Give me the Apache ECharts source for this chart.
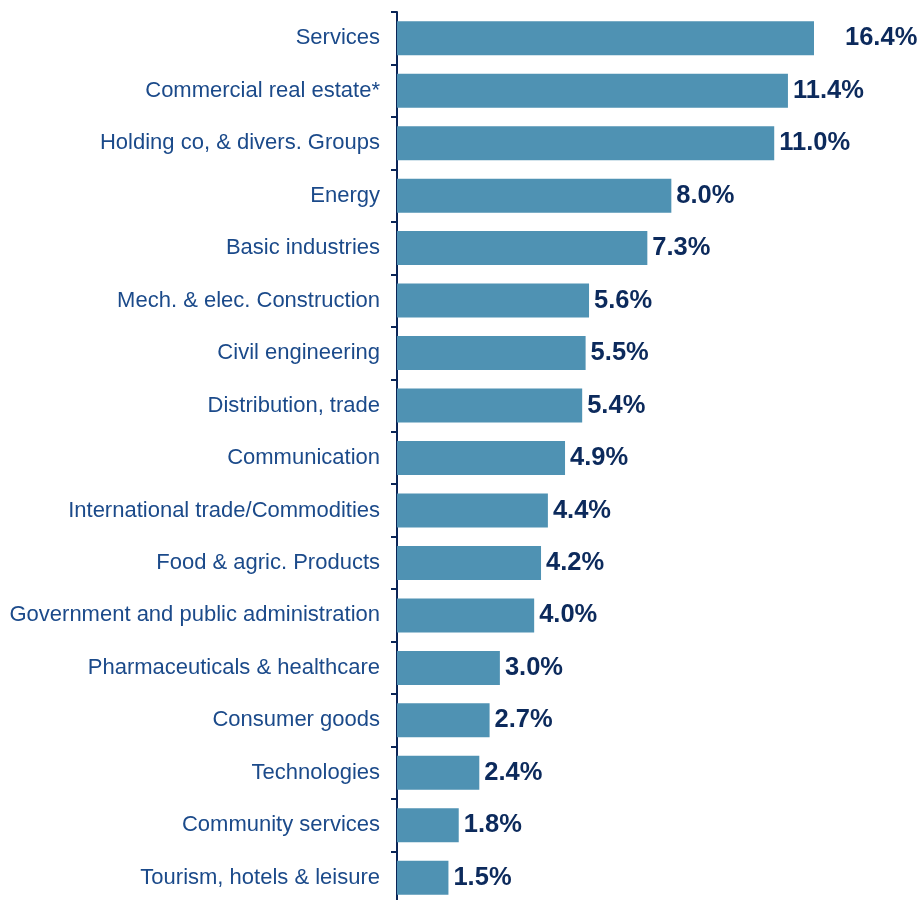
<!DOCTYPE html>
<html>
<head>
<meta charset="utf-8">
<style>
  html, body { margin: 0; padding: 0; background: #ffffff; overflow: hidden; }
  #chart { width: 922px; height: 912px; }
</style>
<script src="https://cdn.jsdelivr.net/npm/echarts@6/dist/echarts.min.js"></script>
</head>
<body>
<div id="chart"></div>
<script>
// Sector breakdown, share of total (%)
const sectors = [
  'Services',
  'Commercial real estate*',
  'Holding co, & divers. Groups',
  'Energy',
  'Basic industries',
  'Mech. & elec. Construction',
  'Civil engineering',
  'Distribution, trade',
  'Communication',
  'International trade/Commodities',
  'Food & agric. Products',
  'Government and public administration',
  'Pharmaceuticals & healthcare',
  'Consumer goods',
  'Technologies',
  'Community services',
  'Tourism, hotels & leisure'
];
const shares = [16.4, 11.4, 11.0, 8.0, 7.3, 5.6, 5.5, 5.4, 4.9, 4.4, 4.2, 4.0, 3.0, 2.7, 2.4, 1.8, 1.5];

// The value axis stops short of the largest bar, which is drawn cut off at the edge
const axisMax = 12.16;

const font = '"Liberation Sans", Arial, sans-serif';

const barData = shares.map(function (v) {
  const item = { value: v };
  if (v > axisMax) {
    item.label = { distance: 31 };
  }
  return item;
});

const chart = echarts.init(document.getElementById('chart'), null, { renderer: 'canvas' });
chart.setOption({
  animation: false,
  backgroundColor: '#ffffff',
  grid: { left: 397, top: 12, width: 417, height: 892, containLabel: false },
  xAxis: {
    type: 'value',
    min: 0,
    max: axisMax,
    show: false
  },
  yAxis: {
    type: 'category',
    data: sectors,
    inverse: true,
    axisLine: { show: true, lineStyle: { color: '#0b2557', width: 2 } },
    axisTick: { show: true, length: 6, inside: false, lineStyle: { color: '#0b2557', width: 2 } },
    axisLabel: {
      margin: 17,
      color: '#1b4a8a',
      fontFamily: font,
      fontSize: 22
    },
    splitLine: { show: false }
  },
  series: [{
    type: 'bar',
    data: barData,
    barWidth: 34,
    clip: true,
    itemStyle: { color: '#4f92b3' },
    label: {
      show: true,
      position: 'right',
      distance: 5,
      color: '#0c2a5c',
      fontFamily: font,
      fontWeight: 'bold',
      fontSize: 25.5,
      formatter: function (p) { return p.value.toFixed(1) + '%'; }
    }
  }]
});
</script>
</body>
</html>
